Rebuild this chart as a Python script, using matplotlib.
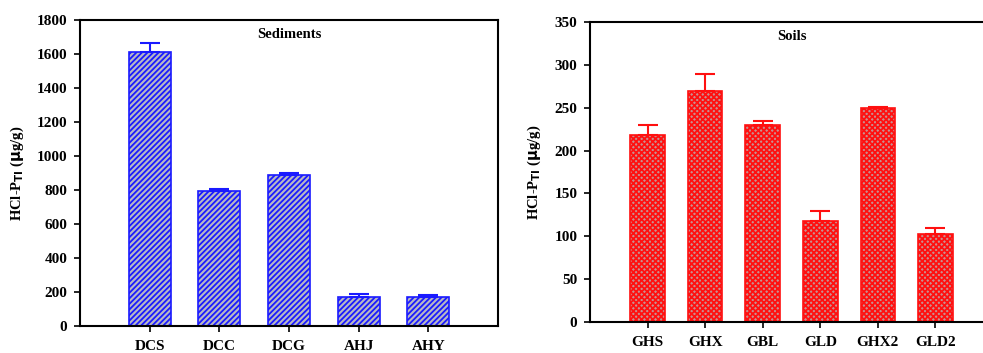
import matplotlib
matplotlib.use("Agg")
import matplotlib.pyplot as plt
import numpy as np

plt.rcParams['font.family'] = ['Liberation Serif', 'DejaVu Serif']
plt.rcParams['font.weight'] = 'bold'
plt.rcParams['hatch.linewidth'] = 1.3

sed_cats = ["DCS", "DCC", "DCG", "AHJ", "AHY"]
sed_vals = [1610, 793, 890, 172, 172]
sed_err = [52, 12, 8, 18, 8]

soil_cats = ["GHS", "GHX", "GBL", "GLD", "GHX2", "GLD2"]
soil_vals = [218, 270, 230, 118, 250, 103]
soil_err = [12, 19, 5, 11, 1, 7]

fig = plt.figure(figsize=(9.83, 3.53), dpi=100)
W, H = 983, 353

def axes_px(x0, y0, x1, y1):
    return fig.add_axes([x0 / W, 1 - y1 / H, (x1 - x0) / W, (y1 - y0) / H])

ax1 = axes_px(80, 20, 498, 326)
ax2 = axes_px(590, 22, 993, 322)

def style(ax, ylabel_text):
    for s in ax.spines.values():
        s.set_linewidth(1.5)
    ax.tick_params(axis='both', direction='out', width=1.2, length=4, labelsize=11)
    ax.tick_params(axis='y', right=False, pad=5)
    ax.tick_params(axis='x', pad=6)
    for lab in ax.get_xticklabels() + ax.get_yticklabels():
        lab.set_fontweight('bold')
    ax.set_ylabel(ylabel_text, fontsize=10.5, fontweight='bold', labelpad=8)

# Sediments
x1 = np.arange(1, len(sed_cats) + 1)
ax1.bar(x1, sed_vals, width=0.6, facecolor='#b8b8c4', edgecolor='#1a1aff',
        hatch='//////', linewidth=1.2, zorder=2)
ax1.errorbar(x1, sed_vals, yerr=[np.zeros(len(sed_err)), sed_err], fmt='none',
             ecolor='#1a1aff', elinewidth=1.5, capsize=7, capthick=1.5, zorder=3)
ax1.set_xlim(0, 6)
ax1.set_ylim(0, 1800)
ax1.set_yticks(np.arange(0, 1801, 200))
ax1.set_xticks(x1)
ax1.set_xticklabels(sed_cats)
style(ax1, r'HCl-P$_{\mathbf{TI}}$ ($\mathbf{\mu}$g/g)')
ax1.text(0.5, 0.975, 'Sediments', transform=ax1.transAxes, ha='center', va='top',
         fontsize=10.5, fontweight='bold')

# Soils
x2 = np.arange(1, len(soil_cats) + 1)
ax2.bar(x2, soil_vals, width=0.6, facecolor='#c89090', edgecolor='#ff1010',
        hatch='xxxxxx', linewidth=1.2, zorder=2)
ax2.errorbar(x2, soil_vals, yerr=[np.zeros(len(soil_err)), soil_err], fmt='none',
             ecolor='#ff1010', elinewidth=1.5, capsize=7, capthick=1.5, zorder=3)
ax2.set_xlim(0, 7)
ax2.set_ylim(0, 350)
ax2.set_yticks(np.arange(0, 351, 50))
ax2.set_xticks(x2)
ax2.set_xticklabels(soil_cats)
style(ax2, r'HCl-P$_{\mathbf{TI}}$ ($\mathbf{\mu}$g/g)')
ax2.text(0.5, 0.975, 'Soils', transform=ax2.transAxes, ha='center', va='top',
         fontsize=10.5, fontweight='bold')

fig.savefig('out.png', dpi=100)
